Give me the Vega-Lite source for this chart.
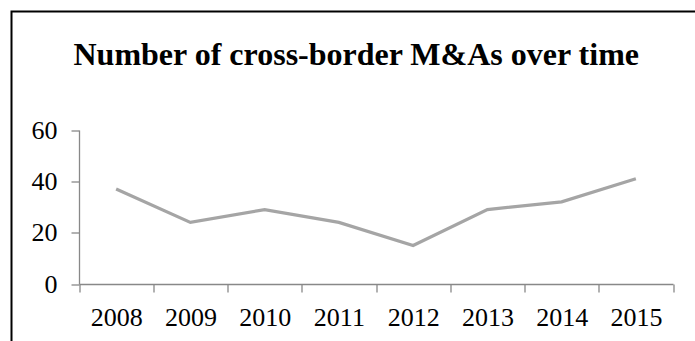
{
  "$schema": "https://vega.github.io/schema/vega-lite/v6.json",
  "autosize": {"type": "none"},
  "width": 683.5,
  "height": 329.5,
  "padding": {"left": 11.5, "top": 11.5, "right": 0, "bottom": 0},
  "background": "white",
  "title": {
    "text": "Number of cross-border M&As over time",
    "font": "Liberation Serif",
    "fontSize": 32,
    "fontWeight": "bold",
    "color": "black",
    "anchor": "start",
    "frame": "group",
    "dx": 62,
    "offset": -60
  },
  "data": {
    "values": [
      {"year": "2008", "deals": 37},
      {"year": "2009", "deals": 24},
      {"year": "2010", "deals": 29},
      {"year": "2011", "deals": 24},
      {"year": "2012", "deals": 15},
      {"year": "2013", "deals": 29},
      {"year": "2014", "deals": 32},
      {"year": "2015", "deals": 41}
    ]
  },
  "mark": {"type": "line", "color": "#a5a5a5", "strokeWidth": 3.2, "strokeJoin": "miter"},
  "encoding": {
    "x": {
      "field": "year",
      "type": "ordinal",
      "scale": {"type": "band", "range": [67.5, 661.5], "paddingInner": 0, "paddingOuter": 0},
      "axis": {
        "title": null,
        "labelAngle": 0,
        "tickBand": "extent",
        "offset": -57,
        "domainColor": "#888888",
        "tickColor": "#888888",
        "domainWidth": 1.3,
        "tickWidth": 1.3,
        "tickSize": 8,
        "labelFont": "Liberation Serif",
        "labelFontSize": 26,
        "labelColor": "black",
        "labelPadding": 12,
        "grid": false
      }
    },
    "y": {
      "field": "deals",
      "type": "quantitative",
      "scale": {"domain": [0, 60], "range": [272.5, 118.5], "nice": false, "zero": true},
      "axis": {
        "title": null,
        "values": [0, 20, 40, 60],
        "offset": -67.5,
        "domainColor": "#888888",
        "tickColor": "#888888",
        "domainWidth": 1.3,
        "tickWidth": 1.3,
        "tickSize": 8,
        "labelFont": "Liberation Serif",
        "labelFontSize": 26,
        "labelColor": "black",
        "labelPadding": 14,
        "grid": false
      }
    }
  },
  "config": {
    "view": {
      "stroke": "black",
      "strokeWidth": 2,
      "fill": "white",
      "strokeDash": [683.5, 1013, 329.5, 0],
      "strokeCap": "square"
    }
  }
}
